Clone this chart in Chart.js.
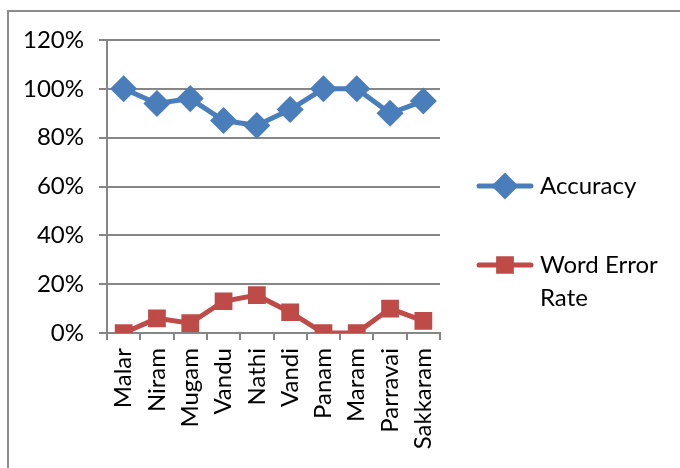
<!DOCTYPE html>
<html>
<head>
<meta charset="utf-8">
<script src="https://cdn.jsdelivr.net/npm/chart.js@4"></script>
<style>
  html, body { margin: 0; padding: 0; background: #fff; overflow: hidden; }
  #wrap { position: relative; width: 680px; height: 468px; }
  #frame { position: absolute; left: 7px; top: 10px; width: 700px; height: 500px; border: 2px solid #8c8c8c; box-sizing: border-box; }
  canvas { position: absolute; left: 0; top: 0; }
</style>
</head>
<body>
<div id="wrap">
  <div id="frame"></div>
  <canvas id="myChart" width="680" height="468"></canvas>
</div>
<script>
// words tested
const words = ['Malar', 'Niram', 'Mugam', 'Vandu', 'Nathi', 'Vandi', 'Panam', 'Maram', 'Parravai', 'Sakkaram'];
// percentages
const accuracy = [100, 94, 96, 87, 85, 91.5, 100, 100, 90, 95];
const wordErrorRate = [0, 6, 4, 13, 15.5, 8.5, 0, 0, 10, 5];
const yTicks = [0, 20, 40, 60, 80, 100, 120];
const legendLines = [['Accuracy'], ['Word Error', 'Rate']];

const FONT = 'Lato, Calibri, "Open Sans", sans-serif';

// legend drawn at the right, with the long label wrapped like the original
const sideLegend = {
  id: 'sideLegend',
  afterDraw(chart) {
    const c = chart.ctx;
    const rows = [186, 265];
    chart.data.datasets.forEach((ds, i) => {
      const y = rows[i];
      c.save();
      c.strokeStyle = ds.borderColor;
      c.lineWidth = 5;
      c.lineCap = 'round';
      c.beginPath();
      c.moveTo(479, y);
      c.lineTo(531, y);
      c.stroke();
      Chart.helpers.drawPoint(c, {
        pointStyle: ds.pointStyle,
        radius: ds.pointRadius,
        borderWidth: 1
      }, 505, y);
      c.fillStyle = ds.pointBackgroundColor;
      c.fill();
      c.fillStyle = '#000';
      c.font = '24px ' + FONT;
      c.textBaseline = 'middle';
      legendLines[i].forEach((t, k) => c.fillText(t, 540, y + k * 33));
      c.restore();
    });
  }
};

const ctx = document.getElementById('myChart').getContext('2d');
const myChart = new Chart(ctx, {
  type: 'line',
  data: {
    labels: words,
    datasets: [{
      label: 'Accuracy',
      data: accuracy,
      borderColor: '#4a7ebb',
      backgroundColor: '#4a7ebb',
      pointBackgroundColor: '#4a7ebb',
      pointBorderColor: '#4a7ebb',
      borderWidth: 5,
      pointStyle: 'rectRot',
      pointRadius: 10,
      tension: 0
    }, {
      label: 'Word Error Rate',
      data: wordErrorRate,
      borderColor: '#be4b48',
      backgroundColor: '#be4b48',
      pointBackgroundColor: '#be4b48',
      pointBorderColor: '#be4b48',
      borderWidth: 5,
      pointStyle: 'rect',
      pointRadius: 9,
      tension: 0
    }]
  },
  options: {
    responsive: false,
    animation: false,
    layout: { padding: { left: 10, top: 40, right: 240, bottom: 0 } },
    plugins: {
      legend: { display: false },
      tooltip: { enabled: false }
    },
    scales: {
      x: {
        offset: true,
        grid: { offset: true, drawOnChartArea: false, color: '#868686', lineWidth: 2, tickLength: 7 },
        border: { color: '#868686', width: 2 },
        ticks: {
          color: '#000',
          font: { family: FONT, size: 24 },
          minRotation: 90,
          maxRotation: 90,
          autoSkip: false,
          padding: 8
        },
        afterFit(scale) { scale.height = 135; }
      },
      y: {
        min: 0,
        max: 120,
        afterBuildTicks(scale) { scale.ticks = yTicks.map(v => ({ value: v })); },
        grid: { color: '#868686', lineWidth: 2, tickLength: 8 },
        border: { color: '#868686', width: 2 },
        ticks: {
          color: '#000',
          font: { family: FONT, size: 24 },
          padding: 15,
          callback: v => v + '%'
        },
        afterFit(scale) { scale.width = 97; }
      }
    }
  },
  plugins: [sideLegend]
});
</script>
</body>
</html>
